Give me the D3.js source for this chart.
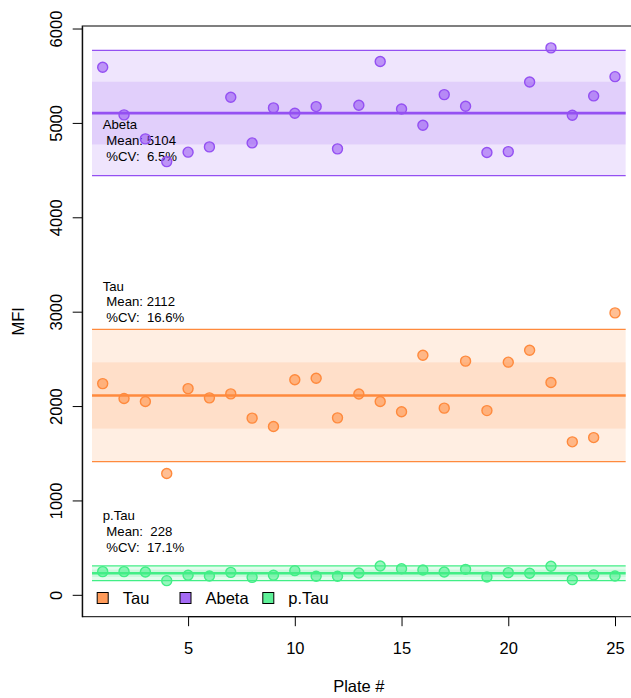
<!DOCTYPE html>
<html><head><meta charset="utf-8">
<script src="https://cdn.jsdelivr.net/npm/d3@7"></script>
<style>
body{margin:0;background:#fff}
text{font-family:"Liberation Sans",Arial,Helvetica,sans-serif;fill:#000}
</style>
</head><body>
<svg id="chart" width="631" height="698"></svg>
<script>
// ---------------- data ----------------
const plates = [1,2,3,4,5,6,7,8,9,10,11,12,13,14,15,16,17,18,19,20,21,22,23,24,25];
const seriesNames = ["Tau", "Abeta", "p.Tau"];
const tauValues   = [2238,2080,2048,1285,2185,2087,2129,1872,1783,2278,2295,1875,2128,2048,1939,2539,1978,2476,1952,2465,2592,2249,1621,1666,2987];
const abetaValues = [5590,5085,4831,4590,4690,4746,5272,4788,5159,5103,5173,4725,5187,5650,5148,4975,5300,5177,4686,4696,5434,5795,5081,5286,5490];
const ptauValues  = [246,246,242,150,207,200,238,185,207,256,196,196,232,306,277,263,242,270,189,235,228,302,161,211,200];
const seriesMeans = [2112, 5104, 228];
const seriesCVs   = [16.6, 6.5, 17.1];
const meanLabels  = ["Mean: 2112", "Mean: 5104", "Mean:  228"];
const cvLabels    = ["%CV:  16.6%", "%CV:  6.5%", "%CV:  17.1%"];
const xTicks = [5,10,15,20,25];
const yTicks = [0,1000,2000,3000,4000,5000,6000];

// ---------------- style / layout ----------------
const colors = ["#FF8A3D", "#9450F2", "#42EE86"];
const labelAnchors = [3273, 4982, 837];   // MFI level of first annotation line
const W = 631, H = 698;
const box = {left: 82.2, right: 635.5, top: 26, bottom: 616.7};

const svg = d3.select("#chart");

const x = d3.scaleLinear().domain([0.04, 25.96]).range([box.left, box.right]);
const yLo = 0, yHi = d3.max(abetaValues);
const ext = (yHi - yLo) * 0.04;
const y = d3.scaleLinear().domain([yLo - ext, yHi + ext]).range([box.bottom, box.top]);

const valuesBySeries = [tauValues, abetaValues, ptauValues];

// bands, lines, annotations
const gBands = svg.append("g");
seriesNames.forEach((name, i) => {
  const m = seriesMeans[i], sd = m * seriesCVs[i] / 100, c = colors[i];
  const x0 = x(0.5), x1 = x(25.5);
  gBands.append("rect").attr("x", x0).attr("width", x1 - x0)
    .attr("y", y(m + 2*sd)).attr("height", y(m - 2*sd) - y(m + 2*sd))
    .attr("fill", c).attr("fill-opacity", 0.15);
  gBands.append("rect").attr("x", x0).attr("width", x1 - x0)
    .attr("y", y(m + sd)).attr("height", y(m - sd) - y(m + sd))
    .attr("fill", c).attr("fill-opacity", 0.15);
  [m + 2*sd, m - 2*sd].forEach(v => {
    gBands.append("line").attr("x1", x0).attr("x2", x1)
      .attr("y1", y(v)).attr("y2", y(v))
      .attr("stroke", c).attr("stroke-width", 1.2);
  });
  gBands.append("line").attr("x1", x0).attr("x2", x1)
    .attr("y1", y(m)).attr("y2", y(m))
    .attr("stroke", c).attr("stroke-width", 2.6);

  const t = gBands.append("text")
    .attr("x", x(1)).attr("y", y(labelAnchors[i]))
    .attr("font-size", 13.2).attr("dy", "0.35em")
    .style("white-space", "pre");
  [name, " " + meanLabels[i], " " + cvLabels[i]].forEach((s, k) => {
    t.append("tspan").attr("x", x(1)).attr("dy", k === 0 ? "0.35em" : "1.2em").text(s);
  });
});

// points
seriesNames.forEach((name, i) => {
  svg.append("g").selectAll("circle")
    .data(valuesBySeries[i].map((v, k) => ({p: plates[k], v})))
    .join("circle")
    .attr("cx", d => x(d.p)).attr("cy", d => y(d.v)).attr("r", 5)
    .attr("fill", colors[i]).attr("fill-opacity", 0.55)
    .attr("stroke", colors[i]).attr("stroke-width", 1.4);
});

// box
svg.append("rect").attr("x", box.left).attr("y", box.top)
  .attr("width", box.right - box.left).attr("height", box.bottom - box.top)
  .attr("fill", "none").attr("stroke", "#000").attr("stroke-width", 1);

// axes
const yAxis = svg.append("g").attr("transform", `translate(${box.left},0)`)
  .call(d3.axisLeft(y).tickValues(yTicks).tickSize(9.5).tickSizeOuter(0).tickFormat(d3.format("d")));
yAxis.selectAll("text").attr("font-size", 16.5).attr("fill", "#000")
  .attr("text-anchor", "middle").attr("x", null).attr("dy", "0.35em")
  .attr("transform", "translate(-25.5,0) rotate(-90)");
yAxis.selectAll("line,path").attr("stroke", "#000");

const xAxis = svg.append("g").attr("transform", `translate(0,${box.bottom})`)
  .call(d3.axisBottom(x).tickValues(xTicks).tickSize(9.5).tickSizeOuter(0));
xAxis.select(".domain").attr("d", `M${x(5)},0H${x(25)}`);
xAxis.selectAll("text").attr("font-size", 16.5).attr("fill", "#000")
  .attr("y", 31.3).attr("dy", "0.35em");
xAxis.selectAll("line,path").attr("stroke", "#000");

// titles
svg.append("text").attr("x", (box.left + box.right) / 2).attr("y", 686)
  .attr("dy", "0.35em").attr("text-anchor", "middle").attr("font-size", 16.5).text("Plate #");
svg.append("text").attr("transform", `translate(18,${(box.top + box.bottom) / 2}) rotate(-90)`)
  .attr("dy", "0.35em").attr("text-anchor", "middle").attr("font-size", 16.5).text("MFI");

// legend
const leg = svg.append("g").attr("transform", "translate(102.7,598)");
seriesNames.forEach((name, i) => {
  const g = leg.append("g").attr("transform", `translate(${i * 82.8},0)`);
  g.append("rect").attr("x", -5.5).attr("y", -5.5).attr("width", 11).attr("height", 11)
    .attr("fill", colors[i]).attr("fill-opacity", 0.85).attr("stroke", "#000").attr("stroke-width", 1);
  g.append("text").attr("x", 20).attr("dy", "0.35em").attr("font-size", 16.5).text(name);
});
</script>
</body></html>
